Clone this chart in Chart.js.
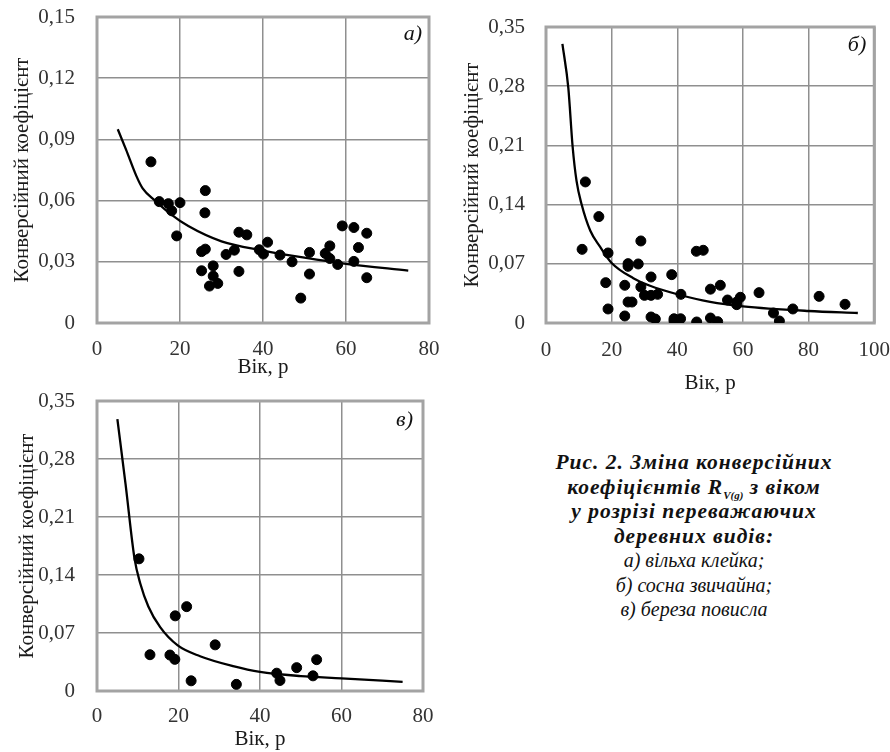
<!DOCTYPE html>
<html lang="uk">
<head>
<meta charset="utf-8">
<title>Конверсійні коефіцієнти</title>
<script src="https://cdn.jsdelivr.net/npm/chart.js"></script>
<style>
  body { margin: 0; background: #fff; width: 890px; height: 752px; position: relative; overflow: hidden; }
  canvas { position: absolute; }
  #capt {
    position: absolute; left: 499px; top: 450px; width: 390px;
    text-align: center; font-family: "Liberation Serif", "Times New Roman", Times, "DejaVu Serif", serif;
    font-size: 20px; line-height: 24.5px; font-style: italic; color: #111;
  }
  #capt b { font-weight: bold; font-size: 21.5px; letter-spacing: 1px; }
  #capt sub { font-size: 11px; line-height: 0; letter-spacing: 0; }
</style>
</head>
<body>

<canvas id="chartA" width="445" height="385" style="left:0;top:0"></canvas>
<canvas id="chartB" width="445" height="400" style="left:445px;top:0"></canvas>
<canvas id="chartC" width="445" height="368" style="left:0;top:384px"></canvas>

<div id="capt">
  <b>Рис. 2. Зміна конверсійних<br>
  коефіцієнтів R<sub>V(g)</sub> з віком<br>
  у розрізі переважаючих<br>
  деревних видів:</b><br>
  а) вільха клейка;<br>
  б) сосна звичайна;<br>
  в) береза повисла
</div>

<script>
// ---- data ----
// а) вільха клейка
var ageA  = [13, 15, 17.2, 18, 20, 19.2, 26.1, 26, 25.2, 26.1, 25.2, 28, 28, 27.1, 29.1, 31.1, 33.1, 34.2, 36.1, 34.2,
             39.1, 40.1, 41.1, 44.1, 47, 49.1, 51.2, 51.2, 55, 56.1, 56.1, 58, 59.1, 61.9, 61.9, 63, 65, 65];
var coefA = [0.079, 0.0595, 0.0585, 0.055, 0.059, 0.0427, 0.0649, 0.054, 0.035, 0.0362, 0.0256, 0.028, 0.023, 0.0181,
             0.0194, 0.0336, 0.0357, 0.0445, 0.0432, 0.0253, 0.0359, 0.0338, 0.0396, 0.0333, 0.030, 0.0122, 0.0346,
             0.024, 0.0341, 0.0378, 0.0316, 0.0287, 0.0476, 0.0468, 0.0302, 0.037, 0.044, 0.0222];
var fitAgeA  = [5, 7, 9.5, 11, 14, 18, 22, 30, 40, 50, 60, 75];
var fitCoefA = [0.095, 0.085, 0.072, 0.066, 0.060, 0.053, 0.0475, 0.040, 0.0355, 0.032, 0.029, 0.0257];

// б) сосна звичайна
var ageB  = [12, 16.1, 11, 18.9, 28.9, 25, 25, 28.1, 45.8, 47.9, 18.2, 24, 32, 38.3, 28.9, 30, 32, 34, 25, 26.2,
             18.9, 24, 32, 33.3, 39, 39, 41, 41.1, 45.9, 50.1, 53.1, 50.1, 52.3, 55.3, 58.1, 59.2, 58.1, 64.9,
             69.3, 71.1, 75.2, 83.2, 91.1];
var coefB = [0.1668, 0.1258, 0.0871, 0.0828, 0.097, 0.0702, 0.067, 0.0698, 0.0848, 0.086, 0.0477, 0.0446, 0.0544,
             0.0572, 0.0426, 0.0327, 0.0327, 0.0339, 0.0248, 0.0248, 0.0166, 0.0083, 0.0071, 0.0047, 0.0024, 0.005,
             0.005, 0.0339, 0.0012, 0.040, 0.0446, 0.0059, 0.0016, 0.0272, 0.0248, 0.0304, 0.0217, 0.0359, 0.0118,
             0.0024, 0.0166, 0.0315, 0.0221];
var fitAgeB  = [5, 6.8, 8.1, 9.3, 10.8, 13.5, 16.5, 20, 26.6, 31.7, 40, 50, 60, 80, 95];
var fitCoefB = [0.33, 0.278, 0.209, 0.168, 0.141, 0.109, 0.09, 0.071, 0.053, 0.044, 0.034, 0.025, 0.0197, 0.0142, 0.0118];

// в) береза повисла
var ageC  = [10.3, 19.2, 22, 13, 17.9, 19.1, 29, 23.1, 34.2, 44.1, 44.9, 49, 53, 53.9];
var coefC = [0.1595, 0.0907, 0.1018, 0.0438, 0.0434, 0.0382, 0.0557, 0.0123, 0.008, 0.0215, 0.0127, 0.0282, 0.0183, 0.0378];
var fitAgeC  = [5, 7, 9.2, 10.6, 12.6, 15.5, 19.8, 25.3, 33.4, 40, 50, 60, 75];
var fitCoefC = [0.328, 0.25, 0.16, 0.13, 0.102, 0.077, 0.055, 0.042, 0.030, 0.023, 0.018, 0.0153, 0.011];

// ticks
var xTicks80  = [0, 20, 40, 60, 80];
var xTicks100 = [0, 20, 40, 60, 80, 100];
var yTicksA   = [0, 0.03, 0.06, 0.09, 0.12, 0.15];
var yTicksBC  = [0, 0.07, 0.14, 0.21, 0.28, 0.35];

var FONT = "'Liberation Serif', 'Times New Roman', Times, 'DejaVu Serif', serif";

function pairs(xs, ys) {
  return xs.map(function (x, i) { return { x: x, y: ys[i] }; });
}

// gray frame round the plot area + panel letter
var framePlugin = {
  id: 'frame',
  beforeDatasetsDraw: function (chart) {
    var ctx = chart.ctx, a = chart.chartArea;
    ctx.save();
    ctx.strokeStyle = '#a3a3a3';
    ctx.lineWidth = 3;
    ctx.strokeRect(a.left, a.top, a.right - a.left, a.bottom - a.top);
    ctx.restore();
  },
  afterDraw: function (chart, args, opts) {
    var ctx = chart.ctx, a = chart.chartArea;
    ctx.save();
    ctx.font = 'italic 22px ' + FONT;
    ctx.fillStyle = '#111';
    ctx.textAlign = 'right';
    ctx.textBaseline = 'middle';
    ctx.fillText(opts.letter, a.right - opts.dx, a.top + opts.dy);
    ctx.restore();
  }
};

function makeChart(id, o) {
  return new Chart(document.getElementById(id), {
    type: 'scatter',
    data: {
      datasets: [{
        type: 'line',
        data: pairs(o.fitX, o.fitY),
        borderColor: '#000',
        borderWidth: 2.3,
        pointRadius: 0,
        fill: false,
        cubicInterpolationMode: 'monotone'
      }, {
        data: pairs(o.x, o.y),
        backgroundColor: '#000',
        borderColor: '#000',
        pointRadius: 5,
        pointHoverRadius: 5
      }]
    },
    options: {
      responsive: false,
      animation: false,
      events: [],
      layout: { padding: o.pad },
      plugins: {
        legend: { display: false },
        tooltip: { enabled: false },
        frame: { letter: o.letter, dx: o.dx, dy: o.dy }
      },
      scales: {
        x: {
          type: 'linear',
          min: o.xTicks[0], max: o.xTicks[o.xTicks.length - 1],
          afterBuildTicks: function (s) { s.ticks = o.xTicks.map(function (v) { return { value: v }; }); },
          afterFit: function (s) { s.height = o.xH; },
          // invisible tick marks keep the labels away from the frame
          grid: { color: '#8f8f8f', lineWidth: 1.5, drawTicks: true, tickLength: o.xPad, tickColor: 'rgba(0,0,0,0)' },
          border: { display: false },
          ticks: { color: '#333', padding: 0, font: { family: FONT, size: 21 } },
          title: { display: true, text: 'Вік, р', color: '#1a1a1a', padding: 0, font: { family: FONT, size: 21 } }
        },
        y: {
          min: 0, max: o.yTicks[o.yTicks.length - 1],
          afterBuildTicks: function (s) { s.ticks = o.yTicks.map(function (v) { return { value: v }; }); },
          afterFit: function (s) { s.width = o.yW; },
          grid: { color: '#8f8f8f', lineWidth: 1.5, drawTicks: true, tickLength: o.yPad, tickColor: 'rgba(0,0,0,0)' },
          border: { display: false },
          ticks: {
            color: '#333', padding: 0, font: { family: FONT, size: 21 },
            callback: function (v) { return v === 0 ? '0' : v.toFixed(2).replace('.', ','); }
          },
          title: { display: true, text: 'Конверсійний коефіцієнт', color: '#1a1a1a',
                   padding: { top: o.yTitlePad, bottom: 0 }, font: { family: FONT, size: 21 } }
        }
      }
    },
    plugins: [framePlugin]
  });
}

makeChart('chartA', {
  x: ageA, y: coefA, fitX: fitAgeA, fitY: fitCoefA,
  xTicks: xTicks80, yTicks: yTicksA,
  pad: { left: 0, top: 17, right: 16, bottom: 5 },
  yW: 97, xH: 57, xPad: 14, yPad: 22, yTitlePad: 10,
  letter: 'а)', dx: 7, dy: 17
});

makeChart('chartB', {
  x: ageB, y: coefB, fitX: fitAgeB, fitY: fitCoefB,
  xTicks: xTicks100, yTicks: yTicksBC,
  pad: { left: 0, top: 27, right: 15, bottom: 4 },
  yW: 101, xH: 73, xPad: 15, yPad: 21, yTitlePad: 15,
  letter: 'б)', dx: 8, dy: 18
});

makeChart('chartC', {
  x: ageC, y: coefC, fitX: fitAgeC, fitY: fitCoefC,
  xTicks: xTicks80, yTicks: yTicksBC,
  pad: { left: 0, top: 17, right: 22, bottom: 0 },
  yW: 97, xH: 61, xPad: 13, yPad: 22, yTitlePad: 15,
  letter: 'в)', dx: 10, dy: 19
});
</script>
</body>
</html>
